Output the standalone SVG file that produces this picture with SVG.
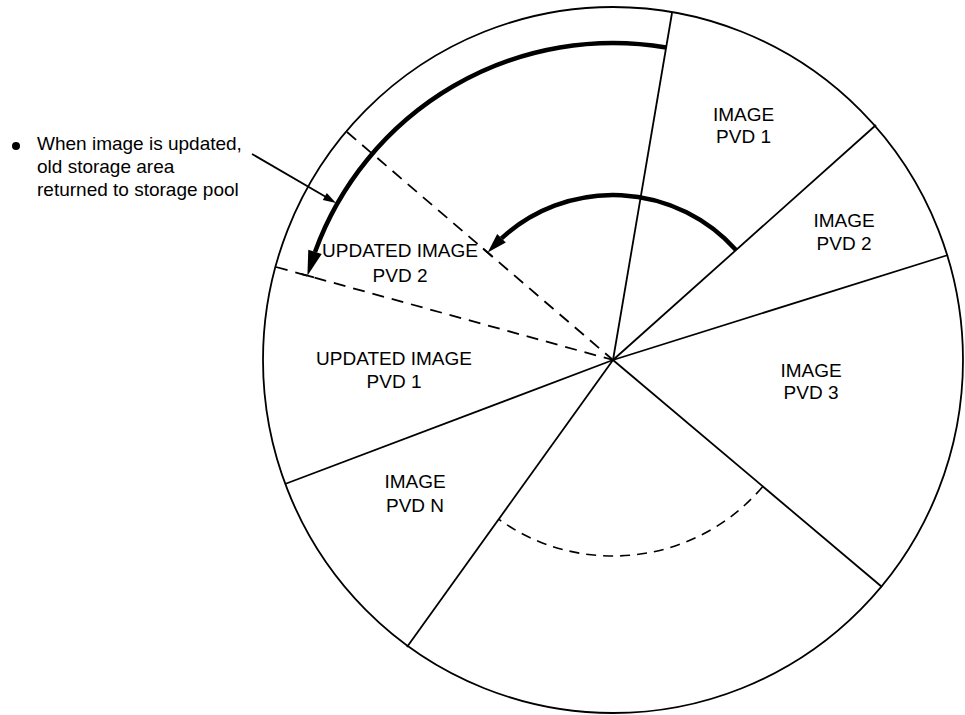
<svg xmlns="http://www.w3.org/2000/svg" width="965" height="715" viewBox="0 0 965 715">
<style>
.ln{stroke:#000;stroke-width:1.8;fill:none}
.ds{stroke:#000;stroke-width:1.8;fill:none;stroke-dasharray:12 8}
.dsa{stroke:#000;stroke-width:1.6;fill:none;stroke-dasharray:10 7}
.thk{stroke:#000;stroke-width:4.5;fill:none}
.ah{fill:#000;stroke:none}
text{font-family:"Liberation Sans",Arial,sans-serif;font-size:19px;fill:#000}
.c{text-anchor:middle}
</style>
<rect width="965" height="715" fill="#fff"/>
<g id="disk">
<ellipse cx="613" cy="360" rx="350" ry="353" class="ln" stroke-width="2"/>
</g>
<g id="connectors">
<line x1="613" y1="360" x2="672" y2="13" class="ln"/>
<line x1="613" y1="360" x2="876" y2="125" class="ln"/>
<line x1="613" y1="360" x2="948" y2="255" class="ln"/>
<line x1="613" y1="360" x2="882" y2="587" class="ln"/>
<line x1="613" y1="360" x2="407" y2="647" class="ln"/>
<line x1="613" y1="360" x2="285" y2="484" class="ln"/>
<line x1="276" y1="267" x2="613" y2="360" class="ds"/>
<line x1="347" y1="132" x2="613" y2="360" class="ds"/>
<line x1="301" y1="273.8" x2="314" y2="277.4" class="ln" stroke-width="2.2"/>
<line x1="483" y1="248.5" x2="492" y2="256.3" class="ln" stroke-width="2.2"/>
<path d="M762.6 486.7 A196 196 0 0 1 498.9 519.4" class="dsa"/>
<path d="M666.1 47.5 A317 317 0 0 0 315 251.9" class="thk"/>
<polygon points="307.4,275.7 321.7,254 308.3,249.8" class="ah"/>
<path d="M736 250 A165 165 0 0 0 501.5 238.3" class="thk"/>
<polygon points="487.7,252.6 505.8,242.5 497.2,234.1" class="ah"/>
<line x1="252" y1="154" x2="326" y2="197" class="ln" stroke-width="1.5"/>
<polygon points="336,203 322.8,199.9 326.8,192.9" class="ah"/>
</g>
<g id="note">
<circle cx="16" cy="146" r="4" fill="#000"/>
<text x="37" y="150">When image is updated,</text>
<text x="37" y="173">old storage area</text>
<text x="37" y="196">returned to storage pool</text>
</g>
<g id="pvd1">
<text x="743.5" y="121" class="c">IMAGE</text>
<text x="743.5" y="143" class="c">PVD 1</text>
</g>
<g id="pvd2">
<text x="844" y="227" class="c">IMAGE</text>
<text x="844" y="250" class="c">PVD 2</text>
</g>
<g id="pvd3">
<text x="811" y="377" class="c">IMAGE</text>
<text x="811" y="399" class="c">PVD 3</text>
</g>
<g id="pvdn">
<text x="415" y="488" class="c">IMAGE</text>
<text x="415" y="512" class="c">PVD N</text>
</g>
<g id="updated1">
<text x="394" y="365" class="c">UPDATED IMAGE</text>
<text x="394" y="388" class="c">PVD 1</text>
</g>
<g id="updated2">
<text x="400" y="257" class="c">UPDATED IMAGE</text>
<text x="400" y="282" class="c">PVD 2</text>
</g>
</svg>
